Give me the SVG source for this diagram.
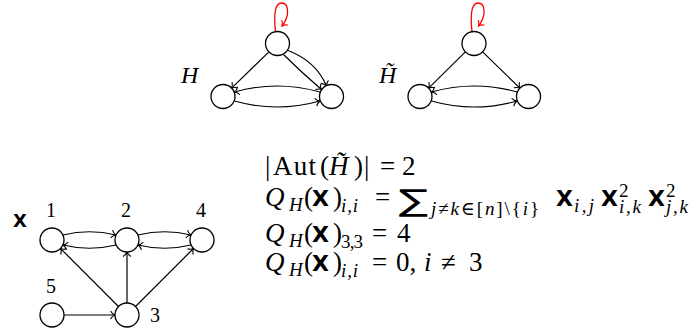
<svg xmlns="http://www.w3.org/2000/svg" width="693" height="334" viewBox="0 0 693 334">
<style>
.n{fill:#fff;stroke:#000;stroke-width:1.3}
.e{fill:none;stroke:#000;stroke-width:1.2;marker-end:url(#ar)}
.loop{fill:none;stroke:#f00;stroke-width:1.3;marker-end:url(#arr)}
text{font-family:"Liberation Serif","DejaVu Serif",serif;fill:#000}
.m{font-size:27px}
.it{font-style:italic}
.bx{font-family:"DejaVu Sans","Liberation Sans",sans-serif;font-weight:bold;font-style:normal;font-size:22px}
.s{font-size:19px}
.sum{font-family:"DejaVu Sans",sans-serif;font-size:30px}
.lbl{font-size:20px;text-anchor:middle}
</style>
<defs>
<marker id="ar" viewBox="-6 -6 8 12" markerWidth="8" markerHeight="12" refX="0" refY="0" orient="auto" markerUnits="userSpaceOnUse">
<path d="M-4.5,-4 C-3,-1.5 -1.2,-0.4 0,0 C-1.2,0.4 -3,1.5 -4.5,4" fill="none" stroke="#000" stroke-width="1.1"/>
</marker>
<marker id="arr" viewBox="-6 -6 8 12" markerWidth="8" markerHeight="12" refX="0" refY="0" orient="auto" markerUnits="userSpaceOnUse">
<path d="M-4.5,-4 C-3,-1.5 -1.2,-0.4 0,0 C-1.2,0.4 -3,1.5 -4.5,4" fill="none" stroke="#f00" stroke-width="1.1"/>
</marker>
</defs>
<g id="connectors">
<path class="loop" d="M275.5,32 C274,18 274,3 281.5,3 C289,3 290,16 282,26"/>
<path class="e" d="M268.9,51.9 L231.6,88.1"/>
<path class="e" d="M283.5,54.5 Q301,72 321.5,89.5"/>
<path class="e" d="M287,50 Q316,61 326.5,86"/>
<path class="e" d="M320,92 Q277,80 234.5,92"/>
<path class="e" d="M234.5,101 Q277,113 320,101"/>
<path class="loop" d="M472,32 C470.5,18 470.5,3 478,3 C485.5,3 486.5,16 478.5,26"/>
<path class="e" d="M465.4,51.9 L428.6,88.1"/>
<path class="e" d="M482.6,51.9 L519.9,88.1"/>
<path class="e" d="M517,92 Q474,80 431.5,92"/>
<path class="e" d="M431.5,101 Q474,113 517,101"/>
<path class="e" d="M63,235 Q89.5,228.5 116,235"/>
<path class="e" d="M116,245 Q89.5,251.5 63,245"/>
<path class="e" d="M138,235 Q164.5,228.5 191,235"/>
<path class="e" d="M191,245 Q164.5,251.5 138,245"/>
<path class="e" d="M118.5,306.5 L60.5,248.5"/>
<path class="e" d="M127,303 L127,252"/>
<path class="e" d="M135.5,306.5 L193.5,248.5"/>
<path class="e" d="M64,315 L115,315"/>
</g>
<g id="H">
<circle id="H-top" class="n" cx="277.5" cy="43.5" r="12"/>
<circle id="H-left" class="n" cx="223" cy="96.5" r="12"/>
<circle id="H-right" class="n" cx="331.5" cy="96.5" r="12"/>
<text class="it" x="181" y="83" font-size="24">H</text>
</g>
<g id="Htilde">
<circle id="Ht-top" class="n" cx="474" cy="43.5" r="12"/>
<circle id="Ht-left" class="n" cx="420" cy="96.5" r="12"/>
<circle id="Ht-right" class="n" cx="528.5" cy="96.5" r="12"/>
<text class="it" x="379" y="83" font-size="24">H̃</text>
</g>
<g id="X">
<text class="bx" x="13" y="227" style="font-size:18px">X</text>
<g id="node1"><circle class="n" cx="52" cy="240" r="12"/><text class="lbl" x="51" y="217">1</text></g>
<g id="node2"><circle class="n" cx="127" cy="240" r="12"/><text class="lbl" x="126" y="217">2</text></g>
<g id="node4"><circle class="n" cx="202" cy="240" r="12"/><text class="lbl" x="201" y="217">4</text></g>
<g id="node5"><circle class="n" cx="52" cy="315" r="12"/><text class="lbl" x="51" y="293">5</text></g>
<g id="node3"><circle class="n" cx="127" cy="315" r="12"/><text class="lbl" x="155" y="322">3</text></g>
</g>
<g id="formulas">
<text class="m" y="175"><tspan x="265">|</tspan><tspan x="273" textLength="43">Aut</tspan><tspan x="320">(</tspan><tspan x="329" class="it">H̃</tspan><tspan x="354">)</tspan><tspan x="364">|</tspan><tspan x="380">=</tspan><tspan x="402">2</tspan></text>
<text class="m" y="206"><tspan x="265" class="it">Q</tspan><tspan x="289" y="211" class="it s">H</tspan><tspan x="304" y="206">(</tspan><tspan x="312" class="bx">X</tspan><tspan x="333">)</tspan><tspan x="341" y="212" class="it s" textLength="17">i,i</tspan><tspan x="375" y="206">=</tspan><tspan x="431" y="215" class="s" textLength="108"><tspan class="it">j</tspan>≠<tspan class="it">k</tspan>∈[<tspan class="it">n</tspan>]\{<tspan class="it">i</tspan>}</tspan><tspan x="556" y="206" class="bx">X</tspan><tspan x="574" y="212" class="it s" textLength="20">i,j</tspan><tspan x="601" y="206" class="bx">X</tspan><tspan x="619" y="197" class="s">2</tspan><tspan x="619" y="213" class="it s" textLength="22">i,k</tspan><tspan x="648" y="206" class="bx">X</tspan><tspan x="666" y="197" class="s">2</tspan><tspan x="666" y="213" class="it s" textLength="22">j,k</tspan></text>
<text class="sum" transform="translate(399,211) scale(1.45,1)">∑</text>
<text class="m" y="242"><tspan x="265" class="it">Q</tspan><tspan x="289" y="247" class="it s">H</tspan><tspan x="304" y="242">(</tspan><tspan x="312" class="bx">X</tspan><tspan x="333">)</tspan><tspan x="341" y="248" class="s" textLength="22">3,3</tspan><tspan x="372" y="242">=</tspan><tspan x="397">4</tspan></text>
<text class="m" y="271"><tspan x="265" class="it">Q</tspan><tspan x="289" y="276" class="it s">H</tspan><tspan x="304" y="271">(</tspan><tspan x="312" class="bx">X</tspan><tspan x="333">)</tspan><tspan x="341" y="277" class="it s" textLength="17">i,i</tspan><tspan x="372" y="271">=</tspan><tspan x="396">0,</tspan><tspan x="424" class="it">i</tspan><tspan x="441">≠</tspan><tspan x="469">3</tspan></text>
</g>
</svg>
